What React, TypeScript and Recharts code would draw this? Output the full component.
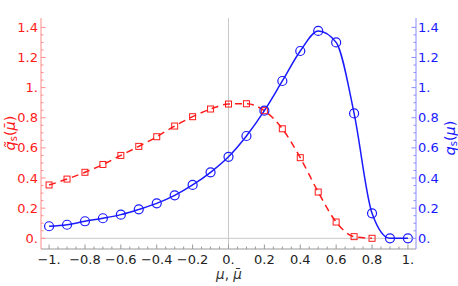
import React from 'react';
import { ComposedChart, Line, XAxis, YAxis, ReferenceLine } from 'recharts';

// sample points along mu
const muValues = [-1, -0.9, -0.8, -0.7, -0.6, -0.5, -0.4, -0.3, -0.2, -0.1, 0, 0.1, 0.2, 0.3, 0.4, 0.5, 0.6, 0.7, 0.8, 0.9, 1];
// q̃s (red, left axis) – ends at 0.8
const qTilde = [0.354, 0.393, 0.438, 0.49, 0.55, 0.61, 0.674, 0.745, 0.807, 0.858, 0.891, 0.893, 0.847, 0.727, 0.535, 0.307, 0.108, 0.011, 0.0, null, null];
// qs (blue, right axis)
const qs = [0.08, 0.09, 0.113, 0.133, 0.157, 0.192, 0.232, 0.285, 0.354, 0.438, 0.541, 0.679, 0.847, 1.044, 1.243, 1.376, 1.3, 0.829, 0.166, 0, 0];

const xMajor = [-1, -0.8, -0.6, -0.4, -0.2, 0, 0.2, 0.4, 0.6, 0.8, 1];
const xMajorLabels = ['−1.', '−0.8', '−0.6', '−0.4', '−0.2', '0.', '0.2', '0.4', '0.6', '0.8', '1.'];
const yMajor = [0, 0.2, 0.4, 0.6, 0.8, 1, 1.2, 1.4];
const yMajorLabels = ['0.', '0.2', '0.4', '0.6', '0.8', '1.', '1.2', '1.4'];

const xTicks = Array.from({ length: 41 }, (_, i) => Math.round((-1 + i * 0.05) * 100) / 100);
const yTicks = Array.from({ length: 29 }, (_, i) => Math.round(i * 0.05 * 100) / 100);

const data = muValues.map((mu, i) => ({ mu, qt: qTilde[i], q: qs[i] }));

const RED = '#ff1a1a';
const BLUE = '#1a1aff';
const FONT = '"DejaVu Sans", sans-serif';

const findMajor = (v: number, majors: number[]) => majors.findIndex(m => Math.abs(m - v) < 1e-6);

const XTick = (props: any) => {
    const { x, y, payload } = props;
    const idx = findMajor(payload.value, xMajor);
    const len = idx >= 0 ? 4.5 : 2.5;
    return (
        <g>
            <line x1={x} x2={x} y1={y} y2={y - len} stroke="#999" strokeWidth={1} />
            {idx >= 0 && (
                <text x={x} y={y + 15} textAnchor="middle" fontSize={13} fontFamily={FONT} fill="#222">
                    {xMajorLabels[idx]}
                </text>
            )}
        </g>
    );
};

const makeYTick = (side: 'left' | 'right', color: string, lineColor: string) => (props: any) => {
    const { x, y, payload } = props;
    const idx = findMajor(payload.value, yMajor);
    const len = idx >= 0 ? 4.5 : 2.5;
    const dir = side === 'left' ? 1 : -1;
    return (
        <g>
            <line x1={x} x2={x + dir * len} y1={y} y2={y} stroke={lineColor} strokeWidth={1} />
            {idx >= 0 && (
                <text
                    x={side === 'left' ? x - 3 : x + 2}
                    y={y + 4.5}
                    textAnchor={side === 'left' ? 'end' : 'start'}
                    fontSize={13}
                    fontFamily={FONT}
                    fill={color}
                >
                    {yMajorLabels[idx]}
                </text>
            )}
        </g>
    );
};

const LeftTick = makeYTick('left', RED, '#ff8c8c');
const RightTick = makeYTick('right', BLUE, '#8c8cff');

const SquareDot = (props: any) => {
    const { cx, cy, index } = props;
    if (cx == null || cy == null) return <g key={`sq-${index}`} />;
    return <rect key={`sq-${index}`} x={cx - 3} y={cy - 3} width={6} height={6} fill="none" stroke={RED} strokeWidth={1} />;
};

const App: React.FC = () => {
    return (
        <div style={{ position: 'absolute', left: 0, top: 0, width: 458, height: 286, background: '#fff' }}>
            <ComposedChart width={458} height={286} data={data} margin={{ top: 18, right: 0, bottom: 0, left: 0 }}>
                <XAxis
                    xAxisId="b"
                    dataKey="mu"
                    type="number"
                    domain={[-1.045, 1.045]}
                    allowDataOverflow
                    ticks={xTicks}
                    interval={0}
                    tickSize={0}
                    tickMargin={0}
                    tickLine={false}
                    tick={<XTick />}
                    axisLine={{ stroke: '#999' }}
                    height={37}
                    label={() => (
                        <text x={229} y={279} textAnchor="middle" fontSize={13.5} fontFamily={FONT} fill="#333">
                            <tspan fontStyle="italic">μ</tspan>, <tspan fontStyle="italic">μ̄</tspan>
                        </text>
                    )}
                />
                <XAxis
                    xAxisId="t"
                    orientation="top"
                    type="number"
                    dataKey="mu"
                    domain={[-1.045, 1.045]}
                    allowDataOverflow
                    height={0}
                    tick={false}
                    tickLine={false}
                    axisLine={{ stroke: '#999' }}
                />
                <YAxis
                    yAxisId="l"
                    orientation="left"
                    type="number"
                    domain={[-0.071, 1.462]}
                    allowDataOverflow
                    width={41}
                    ticks={yTicks}
                    interval={0}
                    tickSize={0}
                    tickMargin={0}
                    tickLine={false}
                    tick={<LeftTick />}
                    axisLine={{ stroke: '#ff8c8c' }}
                    label={() => (
                        <text x={10} y={133} transform="rotate(-90 10 133)" textAnchor="middle" dominantBaseline="central" fontSize={14.5} fontFamily={FONT} fill={RED}>
                            <tspan fontStyle="italic">q̃</tspan>
                            <tspan fontSize={10} dy={3}>s</tspan>
                            <tspan dy={-3}>(</tspan>
                            <tspan fontStyle="italic">μ̄</tspan>
                            <tspan>)</tspan>
                        </text>
                    )}
                />
                <YAxis
                    yAxisId="r"
                    orientation="right"
                    type="number"
                    domain={[-0.071, 1.462]}
                    allowDataOverflow
                    width={42}
                    ticks={yTicks}
                    interval={0}
                    tickSize={0}
                    tickMargin={0}
                    tickLine={false}
                    tick={<RightTick />}
                    axisLine={{ stroke: '#8c8cff' }}
                    label={() => (
                        <text x={450} y={138} transform="rotate(-90 450 138)" textAnchor="middle" dominantBaseline="central" fontSize={14.5} fontFamily={FONT} fill={BLUE}>
                            <tspan fontStyle="italic">q</tspan>
                            <tspan fontSize={10} dy={3}>s</tspan>
                            <tspan dy={-3}>(</tspan>
                            <tspan fontStyle="italic">μ</tspan>
                            <tspan>)</tspan>
                        </text>
                    )}
                />
                <ReferenceLine xAxisId="b" yAxisId="l" x={0} stroke="#c8c8c8" strokeWidth={1} />
                <ReferenceLine xAxisId="b" yAxisId="l" y={0} stroke="#c8c8c8" strokeWidth={1} />
                <Line
                    xAxisId="b"
                    yAxisId="l"
                    dataKey="qt"
                    type="monotone"
                    stroke={RED}
                    strokeWidth={1.5}
                    strokeDasharray="7 5"
                    dot={<SquareDot />}
                    activeDot={false}
                    isAnimationActive={false}
                />
                <Line
                    xAxisId="b"
                    yAxisId="r"
                    dataKey="q"
                    type="monotone"
                    stroke={BLUE}
                    strokeWidth={1.5}
                    dot={{ r: 4.5, fill: 'none', stroke: BLUE, strokeWidth: 1.2 }}
                    activeDot={false}
                    isAnimationActive={false}
                />
            </ComposedChart>
        </div>
    );
};

export default App;
